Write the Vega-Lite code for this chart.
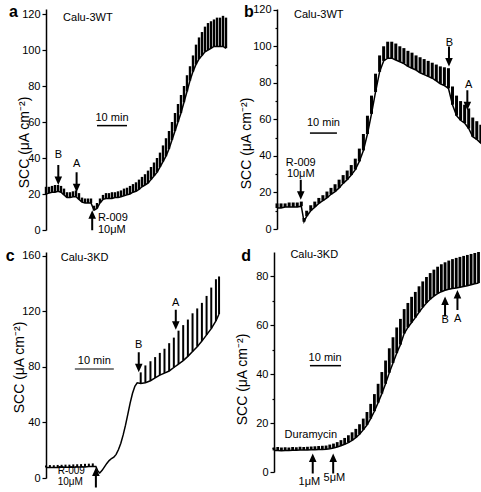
{
"$schema": "https://vega.github.io/schema/vega-lite/v6.json",
"background": "white",
"padding": {"left": 5, "top": 3, "right": 0, "bottom": 0},
"spacing": 12,
"config": {
 "view": {"stroke": null},
 "axis": {"domainColor": "black", "domainWidth": 1.5, "tickColor": "black", "tickSize": 4, "tickWidth": 1.2, "labelFont": "Liberation Sans", "labelFontSize": 11, "labelColor": "black", "labelPadding": 2, "titleFont": "Liberation Sans", "titleFontSize": 14, "titleFontWeight": "normal", "titleColor": "black", "titleBaseline": "bottom", "grid": false},
 "text": {"font": "Liberation Sans", "color": "black"}
},
"datasets": {
 "traceA": [
  {"t":0,"v":20,"v2":24},{"t":1,"v":20.5,"v2":24},{"t":2,"v":21,"v2":24.5},{"t":3,"v":21,"v2":25},{"t":4,"v":21.5,"v2":25},{"t":5,"v":21,"v2":24.5},{"t":6,"v":19.5,"v2":23},{"t":7,"v":18,"v2":21},{"t":8,"v":18,"v2":21},{"t":9,"v":18.5,"v2":21.5},{"t":10,"v":18.5,"v2":22},{"t":11,"v":17,"v2":20.5},{"t":12,"v":15.5,"v2":18},{"t":13,"v":15,"v2":17.5},{"t":14,"v":15,"v2":17.5},{"t":15,"v":15,"v2":17.5},{"t":16,"v":11,"v2":13.5},{"t":17,"v":12,"v2":15},{"t":18,"v":15,"v2":17.5},{"t":19,"v":17,"v2":19.5},{"t":20,"v":17.5,"v2":20.5},{"t":21,"v":17.5,"v2":20.5},{"t":22,"v":17.5,"v2":21},{"t":23,"v":18,"v2":21},{"t":24,"v":18,"v2":21.5},{"t":25,"v":18.5,"v2":22},{"t":26,"v":19,"v2":23},{"t":27,"v":19.5,"v2":23.5},{"t":28,"v":20,"v2":24.5},{"t":29,"v":21,"v2":25.5},{"t":30,"v":21.5,"v2":26.5},{"t":31,"v":22.5,"v2":28},{"t":32,"v":24,"v2":29.5},{"t":33,"v":25,"v2":31},{"t":34,"v":26,"v2":33},{"t":35,"v":28,"v2":35},{"t":36,"v":30,"v2":37.5},{"t":37,"v":32,"v2":40},{"t":38,"v":35,"v2":43},{"t":39,"v":38,"v2":47},{"t":40,"v":41,"v2":51},{"t":41,"v":45,"v2":55},{"t":42,"v":50,"v2":60},{"t":43,"v":55,"v2":65},{"t":44,"v":60,"v2":70},{"t":45,"v":65,"v2":75},{"t":46,"v":71,"v2":80},{"t":47,"v":77,"v2":86},{"t":48,"v":83,"v2":91},{"t":49,"v":88,"v2":97},{"t":50,"v":92,"v2":103},{"t":51,"v":95,"v2":107},{"t":52,"v":97,"v2":110},{"t":53,"v":99,"v2":113},{"t":54,"v":100,"v2":115},{"t":55,"v":101,"v2":116},{"t":56,"v":102,"v2":117},{"t":57,"v":102,"v2":118},{"t":58,"v":102,"v2":118},{"t":59,"v":102,"v2":119},{"t":60,"v":101,"v2":118}
 ],
 "traceB": [
  {"t":0,"v":11.5,"v2":14},{"t":1.5,"v":11.5,"v2":14},{"t":3,"v":12,"v2":14},{"t":4.5,"v":12,"v2":14.5},{"t":6,"v":12,"v2":14.5},{"t":7.5,"v":12,"v2":14.5},{"t":9,"v":12.5,"v2":15},{"t":10,"v":4,"v2":6},{"t":11,"v":7,"v2":10},{"t":12.5,"v":10,"v2":13},{"t":14,"v":12,"v2":15},{"t":15.5,"v":14,"v2":17},{"t":17,"v":15.5,"v2":18.5},{"t":18.5,"v":17,"v2":20.5},{"t":20,"v":19,"v2":22.5},{"t":21.5,"v":20.5,"v2":24.5},{"t":23,"v":22.5,"v2":27},{"t":24.5,"v":25,"v2":29.5},{"t":26,"v":27,"v2":32},{"t":27.5,"v":29.5,"v2":35},{"t":29,"v":32.5,"v2":38.5},{"t":30.5,"v":37,"v2":44},{"t":32,"v":43,"v2":52},{"t":33.5,"v":52,"v2":62},{"t":35,"v":63,"v2":73},{"t":36.5,"v":75,"v2":85},{"t":38,"v":86,"v2":95},{"t":39.5,"v":92,"v2":100},{"t":41,"v":93.5,"v2":102.5},{"t":42.5,"v":93.5,"v2":102.5},{"t":44,"v":92.5,"v2":101.5},{"t":45.5,"v":91.5,"v2":100},{"t":47,"v":90.5,"v2":99},{"t":48.5,"v":89,"v2":97.5},{"t":50,"v":88,"v2":96.5},{"t":51.5,"v":87,"v2":95},{"t":53,"v":85.5,"v2":94},{"t":54.5,"v":84.5,"v2":93},{"t":56,"v":83.5,"v2":92},{"t":57.5,"v":82.5,"v2":91},{"t":59,"v":81,"v2":90},{"t":60.5,"v":79.5,"v2":89},{"t":62,"v":78.5,"v2":88.5},{"t":63.5,"v":77,"v2":88},{"t":65,"v":68,"v2":78},{"t":66.5,"v":62,"v2":73},{"t":68,"v":59.5,"v2":70},{"t":69.5,"v":58,"v2":68},{"t":71,"v":55,"v2":66},{"t":72.5,"v":50.5,"v2":61},{"t":74,"v":49,"v2":59},{"t":75.5,"v":47,"v2":57},{"t":76.3,"v":46,"v2":56}
 ],
 "traceC": [
  {"t":0,"v":7.5,"v2":9},{"t":1,"v":7.5,"v2":9.3},{"t":2,"v":7.6,"v2":9.2},{"t":3,"v":7.6,"v2":9.4},{"t":4,"v":7.7,"v2":9.5},{"t":5,"v":7.7,"v2":9.6},{"t":6,"v":7.8,"v2":9.6},{"t":7,"v":7.8,"v2":9.8},{"t":8,"v":7.9,"v2":9.9},{"t":9,"v":8,"v2":10},{"t":10,"v":8,"v2":10.2},{"t":11,"v":8.2,"v2":10.3},{"t":12,"v":8.3,"v2":10.5},{"t":12.8,"v":8.3,"v2":8.3},{"t":13.3,"v":5,"v2":5},{"t":13.8,"v":3.6,"v2":3.6},{"t":14.4,"v":5.5,"v2":5.5},{"t":15,"v":8,"v2":8},{"t":15.6,"v":10.5,"v2":10.5},{"t":16.2,"v":12.5,"v2":12.5},{"t":16.8,"v":14,"v2":14},{"t":17.4,"v":15,"v2":15},{"t":18,"v":17,"v2":17},{"t":18.6,"v":20.5,"v2":20.5},{"t":19.2,"v":25,"v2":25},{"t":19.8,"v":31,"v2":31},{"t":20.4,"v":38,"v2":38},{"t":21,"v":46,"v2":46},{"t":21.6,"v":54,"v2":54},{"t":22.2,"v":61,"v2":61},{"t":22.8,"v":66,"v2":66},{"t":23.4,"v":68.5,"v2":68.5},{"t":24.3,"v":68,"v2":76},{"t":25.5,"v":68.5,"v2":81},{"t":26.8,"v":70,"v2":84},{"t":28,"v":72,"v2":87},{"t":29.2,"v":74,"v2":90},{"t":30.4,"v":75.5,"v2":93},{"t":31.6,"v":77,"v2":97},{"t":32.8,"v":79.5,"v2":101},{"t":34,"v":82,"v2":106},{"t":35.2,"v":84.5,"v2":110},{"t":36.4,"v":87.5,"v2":114},{"t":37.6,"v":91,"v2":118.5},{"t":38.8,"v":94.5,"v2":122},{"t":40,"v":98.5,"v2":126},{"t":41.2,"v":103,"v2":131},{"t":42.4,"v":107.5,"v2":137},{"t":43.6,"v":113,"v2":143},{"t":44.4,"v":118,"v2":145}
 ],
 "traceD": [
  {"t":0,"v":8.8,"v2":10},{"t":1.2,"v":8.8,"v2":10.2},{"t":2.4,"v":8.7,"v2":10},{"t":3.6,"v":8.8,"v2":10.1},{"t":4.8,"v":8.8,"v2":10},{"t":6,"v":8.9,"v2":10.2},{"t":7.2,"v":8.9,"v2":10.1},{"t":8.4,"v":9,"v2":10.3},{"t":9.6,"v":9,"v2":10.2},{"t":10.8,"v":9,"v2":10.3},{"t":12,"v":9.1,"v2":10.4},{"t":13.2,"v":9.1,"v2":10.5},{"t":14.4,"v":9.2,"v2":10.6},{"t":15.6,"v":9.2,"v2":10.7},{"t":16.8,"v":9.3,"v2":10.8},{"t":18,"v":9.5,"v2":11.2},{"t":19.2,"v":9.8,"v2":11.6},{"t":20.4,"v":10.2,"v2":12.2},{"t":21.6,"v":10.7,"v2":13},{"t":22.8,"v":11.3,"v2":13.9},{"t":24,"v":12,"v2":15},{"t":25.2,"v":12.9,"v2":16.2},{"t":26.4,"v":14,"v2":17.6},{"t":27.6,"v":15.4,"v2":19.5},{"t":28.8,"v":17.2,"v2":21.8},{"t":30,"v":19.2,"v2":24.5},{"t":31.2,"v":21.8,"v2":27.8},{"t":32.4,"v":24.8,"v2":31.8},{"t":33.6,"v":28.3,"v2":36},{"t":34.8,"v":32,"v2":40.8},{"t":36,"v":36,"v2":45.5},{"t":37.2,"v":40.5,"v2":50.5},{"t":38.4,"v":44.5,"v2":55},{"t":39.6,"v":48.5,"v2":59},{"t":40.8,"v":52,"v2":62.5},{"t":42,"v":56.5,"v2":66.5},{"t":43.2,"v":59,"v2":69},{"t":44.4,"v":61,"v2":71.5},{"t":45.6,"v":63,"v2":73.5},{"t":46.8,"v":65.2,"v2":75.8},{"t":48,"v":67.2,"v2":77.8},{"t":49.2,"v":69,"v2":79.6},{"t":50.4,"v":70.5,"v2":81.2},{"t":51.6,"v":71.8,"v2":82.6},{"t":52.8,"v":72.8,"v2":83.8},{"t":54,"v":73.6,"v2":84.8},{"t":55.2,"v":74.2,"v2":85.6},{"t":56.4,"v":74.6,"v2":86.3},{"t":57.6,"v":74.9,"v2":86.9},{"t":58.8,"v":75.1,"v2":87.4},{"t":60,"v":75.4,"v2":87.8},{"t":61.2,"v":75.7,"v2":88.2},{"t":62.4,"v":76,"v2":88.6},{"t":63.6,"v":76.4,"v2":89},{"t":64.8,"v":76.8,"v2":89.4},{"t":66,"v":77.1,"v2":89.8}
 ],
 "arrows": [
  {"p":"a","t":4.1,"v":25,"dir":"down"},{"p":"a","t":10.2,"v":21,"dir":"down"},{"p":"a","t":15.4,"v":11,"dir":"up"},
  {"p":"b","t":8.8,"v":16,"dir":"down"},{"p":"b","t":63.7,"v":89,"dir":"down"},{"p":"b","t":70.5,"v":65,"dir":"down"},
  {"p":"c","t":12.8,"v":7.6,"dir":"up"},{"p":"c","t":23.8,"v":76,"dir":"down"},{"p":"c","t":33.3,"v":106.7,"dir":"down"},
  {"p":"d","t":12.5,"v":7.6,"dir":"up"},{"p":"d","t":19.1,"v":7.6,"dir":"up"},{"p":"d","t":55.2,"v":71.6,"dir":"up"},{"p":"d","t":59.2,"v":74.3,"dir":"up"}
 ],
 "bars": [
  {"p":"a","t":17,"t2":27,"v":58},{"p":"b","t":12.2,"t2":22.2,"v":52.5},{"p":"c","t":7.4,"t2":17.4,"v":78.4},{"p":"d","t":11.6,"t2":21.6,"v":43.4}
 ],
 "labels": [
  {"p":"a","role":"letter","t":-12.3,"v":121,"text":"a"},
  {"p":"a","role":"left","t":5.7,"v":118,"text":"Calu-3WT"},
  {"p":"a","role":"center","t":4.1,"v":41.7,"text":"B"},
  {"p":"a","role":"center","t":10.2,"v":36.7,"text":"A"},
  {"p":"a","role":"left","t":17.3,"v":6.5,"text":"R-009"},
  {"p":"a","role":"left","t":17.3,"v":0,"text":"10μM"},
  {"p":"a","role":"center","t":22,"v":62,"text":"10 min"},
  {"p":"b","role":"letter","t":-12.2,"v":119,"text":"b"},
  {"p":"b","role":"left","t":6.3,"v":117,"text":"Calu-3WT"},
  {"p":"b","role":"center","t":8.8,"v":36.2,"text":"R-009"},
  {"p":"b","role":"center","t":8.8,"v":30.2,"text":"10μM"},
  {"p":"b","role":"center","t":63.9,"v":102,"text":"B"},
  {"p":"b","role":"center","t":71,"v":79,"text":"A"},
  {"p":"b","role":"center","t":17.2,"v":58,"text":"10 min"},
  {"p":"c","role":"letter","t":-10.3,"v":160,"text":"c"},
  {"p":"c","role":"left","t":3.8,"v":158.5,"text":"Calu-3KD"},
  {"p":"c","role":"small","t":3,"v":5,"text":"R-009"},
  {"p":"c","role":"small","t":3,"v":-2.6,"text":"10μM"},
  {"p":"c","role":"center","t":23.8,"v":96,"text":"B"},
  {"p":"c","role":"center","t":33.3,"v":126,"text":"A"},
  {"p":"c","role":"center","t":12.4,"v":84,"text":"10 min"},
  {"p":"d","role":"letter","t":-10.6,"v":88.2,"text":"d"},
  {"p":"d","role":"left","t":5.3,"v":88.6,"text":"Calu-3KD"},
  {"p":"d","role":"center","t":11.9,"v":15.3,"text":"Duramycin"},
  {"p":"d","role":"center","t":11.4,"v":-4,"text":"1μM"},
  {"p":"d","role":"center","t":19.5,"v":-2.3,"text":"5μM"},
  {"p":"d","role":"center","t":55.2,"v":62,"text":"B"},
  {"p":"d","role":"center","t":59.3,"v":62.4,"text":"A"},
  {"p":"d","role":"center","t":16.5,"v":46.4,"text":"10 min"}
 ]
},
"vconcat": [
 {"spacing": 10, "hconcat": [
  {"width": 180, "height": 221,
   "encoding": {
    "x": {"field": "t", "type": "quantitative", "scale": {"domain": [0, 60], "nice": false, "zero": false}, "axis": null},
    "y": {"field": "v", "type": "quantitative", "scale": {"domain": [0, 122.8], "nice": false, "zero": false}, "axis": {"values": [0, 20, 40, 60, 80, 100, 120], "title": "SCC (μA cm⁻²)", "titleX": -15, "titleY": 133}}
   },
   "layer": [
    {"data": {"name": "traceA"}, "mark": {"type": "rule", "strokeWidth": 2.4, "color": "black"}, "encoding": {"y2": {"field": "v2"}}},
    {"data": {"name": "traceA"}, "mark": {"type": "line", "strokeWidth": 1.5, "color": "black"}, "encoding": {}},
    {"data": {"name": "bars"}, "transform": [{"filter": "datum.p == 'a'"}], "mark": {"type": "rule", "strokeWidth": 1.5, "color": "black"}, "encoding": {"x2": {"field": "t2"}}},
    {"data": {"name": "arrows"}, "transform": [{"filter": "datum.p == 'a'"}], "mark": {"type": "point", "filled": true, "color": "black", "opacity": 1, "size": 400, "strokeWidth": 0}, "encoding": {"shape": {"field": "dir", "type": "nominal", "scale": {"domain": ["down", "up"], "range": ["M0,0L-0.38,-0.85L-0.1,-0.85L-0.1,-2L0.1,-2L0.1,-0.85L0.38,-0.85Z", "M0,0L-0.38,0.85L-0.1,0.85L-0.1,2L0.1,2L0.1,0.85L0.38,0.85Z"]}, "legend": null}}},
    {"data": {"name": "labels"}, "transform": [{"filter": "datum.p == 'a' && datum.role == 'center'"}], "mark": {"type": "text", "align": "center", "baseline": "middle", "fontSize": 11}, "encoding": {"text": {"field": "text", "type": "nominal"}}},
    {"data": {"name": "labels"}, "transform": [{"filter": "datum.p == 'a' && datum.role == 'left'"}], "mark": {"type": "text", "align": "left", "baseline": "middle", "fontSize": 11}, "encoding": {"text": {"field": "text", "type": "nominal"}}},
    {"data": {"name": "labels"}, "transform": [{"filter": "datum.p == 'a' && datum.role == 'letter'"}], "mark": {"type": "text", "align": "left", "baseline": "middle", "fontSize": 16, "fontWeight": "bold"}, "encoding": {"text": {"field": "text", "type": "nominal"}}}
   ]
  },
  {"width": 206, "height": 220,
   "encoding": {
    "x": {"field": "t", "type": "quantitative", "scale": {"domain": [0, 76.3], "nice": false, "zero": false}, "axis": null},
    "y": {"field": "v", "type": "quantitative", "scale": {"domain": [0, 120.4], "nice": false, "zero": false}, "axis": {"values": [0, 10, 20, 30, 40, 50, 60, 70, 80, 90, 100, 110, 120], "labelExpr": "datum.value % 20 == 0 ? datum.label : ''", "tickSize": {"condition": {"test": "datum.value % 20 != 0", "value": 2}, "value": 4}, "title": "SCC (μA cm⁻²)", "titleX": -24, "titleY": 134}}
   },
   "layer": [
    {"data": {"name": "traceB"}, "mark": {"type": "rule", "strokeWidth": 3, "color": "black"}, "encoding": {"y2": {"field": "v2"}}},
    {"data": {"name": "traceB"}, "mark": {"type": "line", "strokeWidth": 1.5, "color": "black"}, "encoding": {}},
    {"data": {"name": "bars"}, "transform": [{"filter": "datum.p == 'b'"}], "mark": {"type": "rule", "strokeWidth": 1.5, "color": "black"}, "encoding": {"x2": {"field": "t2"}}},
    {"data": {"name": "arrows"}, "transform": [{"filter": "datum.p == 'b'"}], "mark": {"type": "point", "filled": true, "color": "black", "opacity": 1, "size": 400, "strokeWidth": 0}, "encoding": {"shape": {"field": "dir", "type": "nominal", "scale": {"domain": ["down", "up"], "range": ["M0,0L-0.38,-0.85L-0.1,-0.85L-0.1,-2L0.1,-2L0.1,-0.85L0.38,-0.85Z", "M0,0L-0.38,0.85L-0.1,0.85L-0.1,2L0.1,2L0.1,0.85L0.38,0.85Z"]}, "legend": null}}},
    {"data": {"name": "labels"}, "transform": [{"filter": "datum.p == 'b' && datum.role == 'center'"}], "mark": {"type": "text", "align": "center", "baseline": "middle", "fontSize": 11}, "encoding": {"text": {"field": "text", "type": "nominal"}}},
    {"data": {"name": "labels"}, "transform": [{"filter": "datum.p == 'b' && datum.role == 'left'"}], "mark": {"type": "text", "align": "left", "baseline": "middle", "fontSize": 11}, "encoding": {"text": {"field": "text", "type": "nominal"}}},
    {"data": {"name": "labels"}, "transform": [{"filter": "datum.p == 'b' && datum.role == 'letter'"}], "mark": {"type": "text", "align": "left", "baseline": "middle", "fontSize": 16, "fontWeight": "bold"}, "encoding": {"text": {"field": "text", "type": "nominal"}}}
   ]
  }
 ]},
 {"spacing": 12, "hconcat": [
  {"width": 175, "height": 226,
   "encoding": {
    "x": {"field": "t", "type": "quantitative", "scale": {"domain": [0, 44.9], "nice": false, "zero": false}, "axis": null},
    "y": {"field": "v", "type": "quantitative", "scale": {"domain": [0, 162.6], "nice": false, "zero": false}, "axis": {"values": [0, 40, 80, 120, 160], "title": "SCC (μA cm⁻²)", "titleX": -20, "titleY": 115}}
   },
   "layer": [
    {"data": {"name": "traceC"}, "mark": {"type": "rule", "strokeWidth": 2, "color": "black"}, "encoding": {"y2": {"field": "v2"}}},
    {"data": {"name": "traceC"}, "mark": {"type": "line", "strokeWidth": 1.5, "color": "black"}, "encoding": {}},
    {"data": {"name": "bars"}, "transform": [{"filter": "datum.p == 'c'"}], "mark": {"type": "rule", "strokeWidth": 2, "color": "#808080"}, "encoding": {"x2": {"field": "t2"}}},
    {"data": {"name": "arrows"}, "transform": [{"filter": "datum.p == 'c'"}], "mark": {"type": "point", "filled": true, "color": "black", "opacity": 1, "size": 400, "strokeWidth": 0}, "encoding": {"shape": {"field": "dir", "type": "nominal", "scale": {"domain": ["down", "up"], "range": ["M0,0L-0.38,-0.85L-0.1,-0.85L-0.1,-2L0.1,-2L0.1,-0.85L0.38,-0.85Z", "M0,0L-0.38,0.85L-0.1,0.85L-0.1,2L0.1,2L0.1,0.85L0.38,0.85Z"]}, "legend": null}}},
    {"data": {"name": "labels"}, "transform": [{"filter": "datum.p == 'c' && datum.role == 'center'"}], "mark": {"type": "text", "align": "center", "baseline": "middle", "fontSize": 11}, "encoding": {"text": {"field": "text", "type": "nominal"}}},
    {"data": {"name": "labels"}, "transform": [{"filter": "datum.p == 'c' && datum.role == 'left'"}], "mark": {"type": "text", "align": "left", "baseline": "middle", "fontSize": 11}, "encoding": {"text": {"field": "text", "type": "nominal"}}},
    {"data": {"name": "labels"}, "transform": [{"filter": "datum.p == 'c' && datum.role == 'small'"}], "mark": {"type": "text", "align": "left", "baseline": "middle", "fontSize": 10}, "encoding": {"text": {"field": "text", "type": "nominal"}}},
    {"data": {"name": "labels"}, "transform": [{"filter": "datum.p == 'c' && datum.role == 'letter'"}], "mark": {"type": "text", "align": "left", "baseline": "middle", "fontSize": 16, "fontWeight": "bold"}, "encoding": {"text": {"field": "text", "type": "nominal"}}}
   ]
  },
  {"width": 207, "height": 220,
   "encoding": {
    "x": {"field": "t", "type": "quantitative", "scale": {"domain": [0, 66.8], "nice": false, "zero": false}, "axis": null},
    "y": {"field": "v", "type": "quantitative", "scale": {"domain": [0, 89.8], "nice": false, "zero": false}, "axis": {"values": [0, 10, 20, 30, 40, 50, 60, 70, 80], "labelExpr": "datum.value % 20 == 0 ? datum.label : ''", "tickSize": {"condition": {"test": "datum.value % 20 != 0", "value": 2}, "value": 4}, "title": "SCC (μA cm⁻²)", "titleX": -25, "titleY": 127}}
   },
   "layer": [
    {"data": {"name": "traceD"}, "mark": {"type": "rule", "strokeWidth": 2.8, "color": "black"}, "encoding": {"y2": {"field": "v2"}}},
    {"data": {"name": "traceD"}, "mark": {"type": "line", "strokeWidth": 1.5, "color": "black"}, "encoding": {}},
    {"data": {"name": "bars"}, "transform": [{"filter": "datum.p == 'd'"}], "mark": {"type": "rule", "strokeWidth": 1.5, "color": "black"}, "encoding": {"x2": {"field": "t2"}}},
    {"data": {"name": "arrows"}, "transform": [{"filter": "datum.p == 'd'"}], "mark": {"type": "point", "filled": true, "color": "black", "opacity": 1, "size": 400, "strokeWidth": 0}, "encoding": {"shape": {"field": "dir", "type": "nominal", "scale": {"domain": ["down", "up"], "range": ["M0,0L-0.38,-0.85L-0.1,-0.85L-0.1,-2L0.1,-2L0.1,-0.85L0.38,-0.85Z", "M0,0L-0.38,0.85L-0.1,0.85L-0.1,2L0.1,2L0.1,0.85L0.38,0.85Z"]}, "legend": null}}},
    {"data": {"name": "labels"}, "transform": [{"filter": "datum.p == 'd' && datum.role == 'center'"}], "mark": {"type": "text", "align": "center", "baseline": "middle", "fontSize": 11}, "encoding": {"text": {"field": "text", "type": "nominal"}}},
    {"data": {"name": "labels"}, "transform": [{"filter": "datum.p == 'd' && datum.role == 'left'"}], "mark": {"type": "text", "align": "left", "baseline": "middle", "fontSize": 11}, "encoding": {"text": {"field": "text", "type": "nominal"}}},
    {"data": {"name": "labels"}, "transform": [{"filter": "datum.p == 'd' && datum.role == 'letter'"}], "mark": {"type": "text", "align": "left", "baseline": "middle", "fontSize": 16, "fontWeight": "bold"}, "encoding": {"text": {"field": "text", "type": "nominal"}}}
   ]
  }
 ]}
]
}
